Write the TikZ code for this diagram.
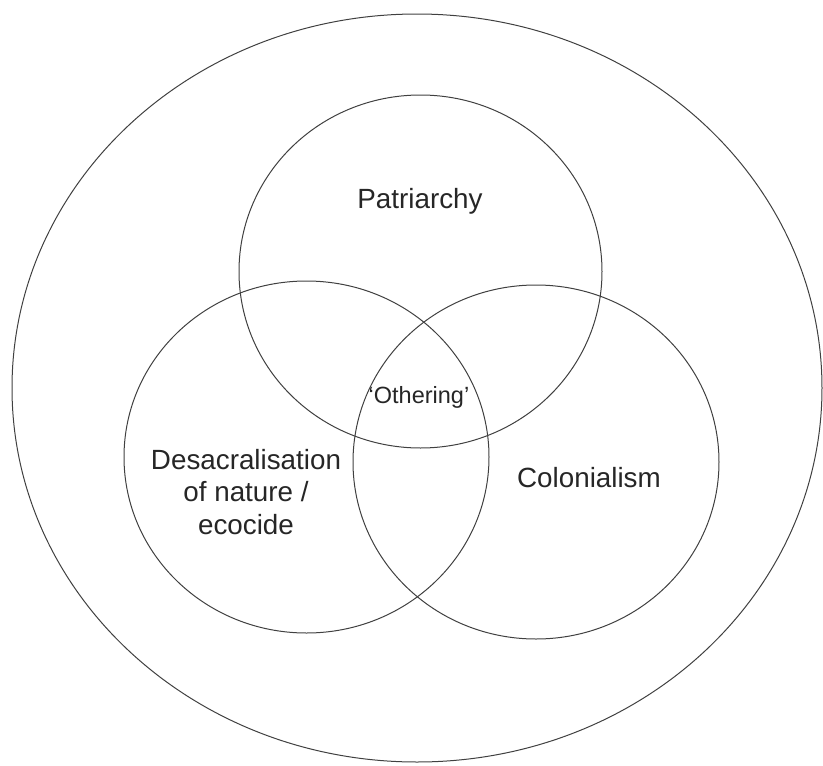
\documentclass[tikz,border=0pt]{standalone}
\usepackage{fontspec}
\setmainfont{Liberation Sans}
\usetikzlibrary{shapes.geometric}

\tikzset{
	set/.style={draw=black!75, line width=1pt, ellipse, inner sep=0pt},
	lbl/.style={font=\fontsize{27.8}{32.5}\selectfont, align=center, text=black!85}
}

\begin{document}
\begin{tikzpicture}[x=1pt,y=-1pt]
	\useasboundingbox (0,0) rectangle (823,766);
	
	\node[set, minimum width=810pt, minimum height=748pt] (world) at (417,388) {};
	\node[set, minimum width=363pt, minimum height=353pt] (patr) at (420.5,271.5) {};
	\node[set, minimum width=365pt, minimum height=352pt] (nature) at (306.5,457) {};
	\node[set, minimum width=366pt, minimum height=354pt] (colon) at (536,462) {};
	
	\node[lbl, anchor=base] (patrtext) at (420,208) {Patriarchy};
	\node[lbl, anchor=base, font=\fontsize{23.5}{28}\selectfont] (other) at (419,403) {‘Othering’};
	\node[lbl] (naturetext) at (246,492) {Desacralisation\\of nature /\\ecocide};
	\node[lbl, anchor=base] (colontext) at (589,487) {Colonialism};
\end{tikzpicture}
\end{document}
